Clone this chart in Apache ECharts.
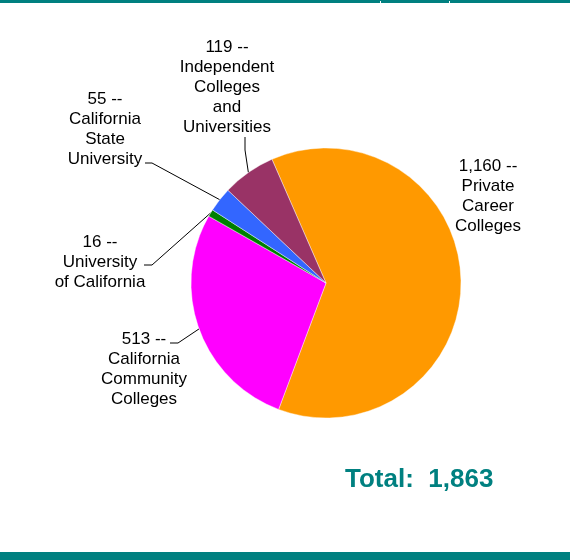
<!DOCTYPE html>
<html>
<head>
<meta charset="utf-8">
<script src="https://cdn.jsdelivr.net/npm/echarts@6/dist/echarts.min.js"></script>
<style>
  html, body { margin: 0; padding: 0; background: #fff; }
  #chart { width: 570px; height: 560px; }
</style>
</head>
<body>
<div id="chart"></div>
<script>
// segment names and counts, in clockwise order
const segmentNames = [
  "Private\nCareer\nColleges",
  "California\nCommunity\nColleges",
  "University\nof California",
  "California\nState\nUniversity",
  "Independent\nColleges\nand\nUniversities",
];
const segmentValues = [1160, 513, 16, 55, 119];
const segmentColors = ["#FF9900", "#FF00FF", "#008000", "#3366FF", "#993366"];
const totalLabel = "Total:  1,863";

const FONT = "'Liberation Sans', Arial, Helvetica, sans-serif";
const TEAL = "#008080";

// where each label block sits (center x, top y) and where its leader line meets the text
const labelSpots = [
  { x: 488, y: 156, line: null },
  { x: 144, y: 329, line: [[178, 343], [170, 343]] },
  { x: 100, y: 232, line: [[152, 265], [144, 265]] },
  { x: 105, y: 89, line: [[152, 163], [145, 163]] },
  { x: 227, y: 37, line: [[245, 150], [245, 137]] },
];

const chart = echarts.init(document.getElementById("chart"), null, { renderer: "canvas" });

const option = {
  animation: false,
  backgroundColor: "#fff",
  textStyle: { fontFamily: FONT },
  title: {
    text: totalLabel,
    left: 345,
    top: 467,
    padding: 0,
    textStyle: { color: TEAL, fontSize: 26, fontWeight: "bold", fontFamily: FONT },
  },
  graphic: [
    { type: "rect", left: 0, top: 0, shape: { width: 570, height: 3 }, style: { fill: TEAL } },
    { type: "rect", left: 380, top: 1, shape: { width: 1, height: 2 }, style: { fill: "#fff" } },
    { type: "rect", left: 449, top: 1, shape: { width: 1, height: 2 }, style: { fill: "#fff" } },
    { type: "rect", left: 0, top: 552, shape: { width: 570, height: 8 }, style: { fill: TEAL } },
  ],
  series: [
    {
      type: "pie",
      center: [326, 283],
      radius: [0, 135],
      startAngle: 113.6,
      clockwise: true,
      avoidLabelOverlap: false,
      emphasis: { disabled: true },
      itemStyle: { borderColor: "rgba(255,255,255,0.7)", borderWidth: 0.6 },
      label: {
        show: true,
        position: "outside",
        color: "#000",
        fontSize: 17,
        lineHeight: 20,
        fontFamily: FONT,
        align: "center",
        formatter: (p) => p.value.toLocaleString("en-US") + " --\n" + p.name,
      },
      labelLine: {
        show: true,
        length: 10,
        length2: 8,
        lineStyle: { color: "#000", width: 1 },
      },
      labelLayout: (params) => {
        const spot = labelSpots[params.dataIndex];
        const out = { x: spot.x, y: spot.y, align: "center", verticalAlign: "top" };
        if (spot.line && params.labelLinePoints) {
          out.labelLinePoints = [params.labelLinePoints[0]].concat(spot.line);
        }
        return out;
      },
      data: segmentNames.map((name, i) => ({
        name: name,
        value: segmentValues[i],
        itemStyle: { color: segmentColors[i] },
        labelLine: { show: labelSpots[i].line !== null },
      })),
    },
  ],
};

chart.setOption(option);
</script>
</body>
</html>
